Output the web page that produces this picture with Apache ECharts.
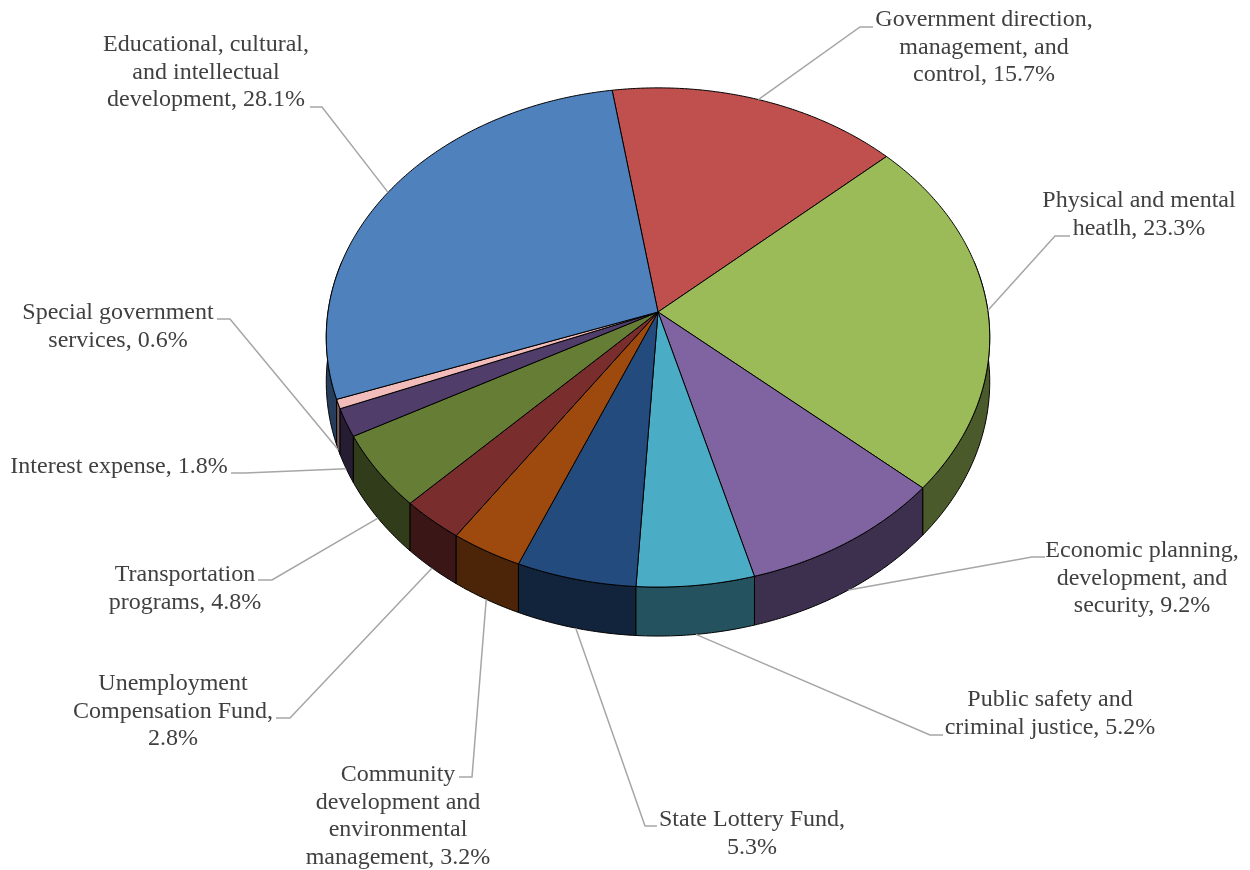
<!DOCTYPE html>
<html><head><meta charset="utf-8">
<script src="https://cdn.jsdelivr.net/npm/echarts@6.0.0/dist/echarts.min.js"></script>
<style>html,body{margin:0;padding:0;background:#fff}#c{width:1250px;height:870px}</style>
</head><body><div id="c"></div>
<script>
// ---- data (clockwise from the top) ----
const categories = [
  'Government direction, management, and control',
  'Physical and mental heatlh',
  'Economic planning, development, and security',
  'Public safety and criminal justice',
  'State Lottery Fund',
  'Community development and environmental management',
  'Unemployment Compensation Fund',
  'Transportation programs',
  'Interest expense',
  'Special government services',
  'Educational, cultural, and intellectual development'
];
const values = [15.7, 23.3, 9.2, 5.2, 5.3, 3.2, 2.8, 4.8, 1.8, 0.6, 28.1];

// ---- styles ----
const topColors = ['#C0504D','#9BBB59','#8064A2','#4BACC6','#234B7D','#9E4A0E','#7A2D2D','#667D36','#503D6A','#F2BCBA','#4F81BD'];
function darken(hex, f) {
  const n = parseInt(hex.slice(1), 16);
  const r = Math.round(((n >> 16) & 255) * f), g = Math.round(((n >> 8) & 255) * f), b = Math.round((n & 255) * f);
  return 'rgb(' + r + ',' + g + ',' + b + ')';
}
const sideColors = topColors.map(c => darken(c, 0.48));

// ---- label layout (first line centre, leader elbow) ----
const labelLayout = [
  {cx: 984,  cy: 20,  tx: 873, ex: 860, ey: 27},
  {cx: 1139, cy: 201, tx: 1070, ex: 1055, ey: 236},
  {cx: 1142, cy: 551, tx: 1045, ex: 1032, ey: 557},
  {cx: 1050, cy: 700, tx: 943, ex: 930, ey: 735},
  {cx: 752,  cy: 820, tx: 657, ex: 645, ey: 826},
  {cx: 398,  cy: 775, tx: 459, ex: 472, ey: 777},
  {cx: 173,  cy: 684, tx: 276, ex: 290, ey: 718},
  {cx: 185,  cy: 575, tx: 258, ex: 272, ey: 580},
  {cx: 119,  cy: 467, tx: 231, ex: 245, ey: 473},
  {cx: 118,  cy: 313, tx: 217, ex: 230, ey: 319},
  {cx: 206,  cy: 45,  tx: 310, ex: 322, ey: 107}
];

// ---- pseudo-3D geometry ----
const CX = 658, CY = 312, A = 330, B = 247, P = 0.102, D = 44, START = -8.8;
const FRONT_LO = 78, FRONT_HI = 282;
const FONT_SIZE = 24, LINE_H = 27.5, WRAP_W = 225;
const total = values.reduce((a, b) => a + b, 0);
const cum = [];
values.reduce((acc, v, i) => { cum[i] = acc; return acc + v; }, 0);
function angles(i) {
  const a0 = START + cum[i] / total * 360;
  const a1 = START + (cum[i] + values[i]) / total * 360;
  return [a0, a1];
}
function proj(deg, r, dz) {
  const th = deg * Math.PI / 180, c = Math.cos(th), s = Math.sin(th);
  const k = 1 / (1 + P * r * c);
  return [CX + A * r * s * k, CY - B * r * c * k + dz * D * k];
}
function rim(s, e, dz) {
  const n = Math.max(2, Math.ceil(Math.abs(e - s) / 0.5));
  const pts = [];
  for (let j = 0; j <= n; j++) pts.push(proj(s + (e - s) * j / n, 1, dz));
  return pts;
}

// text wrapping using real font metrics
const mctx = document.createElement('canvas').getContext('2d');
mctx.font = FONT_SIZE + 'px "Liberation Serif"';
function wrap(text, w) {
  const words = text.split(' ');
  const lines = [];
  let cur = '';
  words.forEach(wd => {
    const t = cur ? cur + ' ' + wd : wd;
    if (cur && mctx.measureText(t).width > w) { lines.push(cur); cur = wd; } else cur = t;
  });
  if (cur) lines.push(cur);
  return lines.join('\n');
}

const seriesData = values.map((v, i) => ({value: v, name: categories[i]}));

const chart = echarts.init(document.getElementById('c'), null, {renderer: 'canvas'});
chart.setOption({
  animation: false,
  backgroundColor: '#ffffff',
  series: [
    {
      type: 'custom', coordinateSystem: 'none', z: 1, silent: true,
      data: seriesData,
      renderItem: function (params) {
        const i = params.dataIndex;
        const [a0, a1] = angles(i);
        const s = Math.max(a0, FRONT_LO), e = Math.min(a1, FRONT_HI);
        if (e <= s) return {type: 'group', children: []};
        const pts = rim(s, e, 0).concat(rim(e, s, 1));
        const mid = (s + e) / 2 * Math.PI / 180;
        return {
          type: 'polygon', z2: Math.round(-Math.cos(mid) * 100),
          shape: {points: pts},
          style: {fill: sideColors[i], stroke: '#000', lineWidth: 1}
        };
      }
    },
    {
      type: 'custom', coordinateSystem: 'none', z: 2, silent: true,
      data: seriesData,
      renderItem: function (params) {
        const i = params.dataIndex;
        const [a0, a1] = angles(i);
        const pts = [[CX, CY]].concat(rim(a0, a1, 0));
        return {
          type: 'polygon', shape: {points: pts},
          style: {fill: topColors[i], stroke: '#000', lineWidth: 1, lineJoin: 'round'}
        };
      }
    },
    {
      type: 'custom', coordinateSystem: 'none', z: 3, silent: true,
      data: seriesData,
      renderItem: function (params) {
        const i = params.dataIndex;
        const L = labelLayout[i];
        const [a0, a1] = angles(i);
        const m = (a0 + a1) / 2;
        const front = Math.cos(m * Math.PI / 180) < -0.1;
        const anchor = proj(m, 1, front ? 1 : 0);
        const txt = wrap(categories[i] + ', ' + values[i].toFixed(1) + '%', WRAP_W);
        return {
          type: 'group',
          children: [
            {
              type: 'polyline',
              shape: {points: [[L.tx, L.ey], [L.ex, L.ey], anchor]},
              style: {stroke: '#A6A6A6', lineWidth: 1.5, fill: null}
            },
            {
              type: 'text',
              style: {
                text: txt, x: L.cx, y: L.cy - LINE_H / 2,
                align: 'center', verticalAlign: 'top',
                fontSize: FONT_SIZE, fontFamily: '"Liberation Serif"',
                lineHeight: LINE_H, fill: '#404040'
              }
            }
          ]
        };
      }
    }
  ]
});
</script>
</body></html>
